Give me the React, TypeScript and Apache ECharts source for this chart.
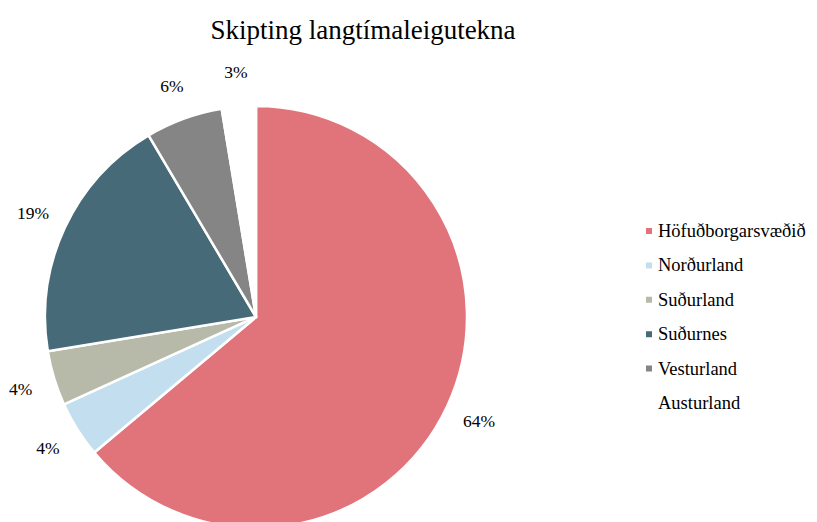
import React, { useEffect, useRef } from "react";
import * as echarts from "echarts";

const categories = ["Höfuðborgarsvæðið", "Norðurland", "Suðurland", "Suðurnes", "Vesturland", "Austurland"];
const values = [63.9, 4.3, 4.2, 19.1, 5.9, 2.6];
const colors = ["#E1737A", "#C3DEEE", "#B8BAA9", "#466A77", "#858585", "#FFFFFF"];
const title = "Skipting langtímaleigutekna";

export default function App() {
  const ref = useRef<HTMLDivElement>(null);
  useEffect(() => {
    document.body.style.margin = "0";
    const chart = echarts.init(ref.current!, undefined, { renderer: "svg" });
    const font = "Liberation Serif";
    chart.setOption({
      animation: false,
      backgroundColor: "#ffffff",
      title: {
        text: title,
        left: 358,
        top: 11,
        textAlign: "center",
        textStyle: { fontFamily: font, fontSize: 27, fontWeight: "normal", color: "#000" },
      },
      legend: {
        orient: "vertical",
        left: 639,
        top: 216,
        icon: "rect",
        itemWidth: 8,
        itemHeight: 8,
        itemGap: 14.4,
        textStyle: { fontFamily: font, fontSize: 18.5, color: "#000", lineHeight: 20 },
        data: categories.map((n, i) => ({ name: n, itemStyle: { color: colors[i] } })),
      },
      series: [
        {
          type: "pie",
          center: [256, 317],
          radius: 211,
          startAngle: 90,
          clockwise: true,
          data: categories.map((n, i) => ({ name: n, value: values[i], itemStyle: { color: colors[i] } })),
          itemStyle: { borderColor: "#fff", borderWidth: 2.5 },
          label: { show: false },
          labelLine: { show: false },
          emphasis: { disabled: true },
        },
        {
          type: "pie",
          center: [256, 317],
          radius: [233, 253],
          startAngle: 90,
          clockwise: true,
          silent: true,
          data: categories.map((n, i) => ({ name: n, value: values[i] })),
          itemStyle: { color: "rgba(0,0,0,0)", borderWidth: 0 },
          label: {
            show: true,
            position: "inside",
            fontFamily: font,
            fontSize: 17.5,
            color: "#000",
            formatter: (p: any) => Math.round(p.value) + "%",
          },
          labelLine: { show: false },
          emphasis: { disabled: true },
        },
      ],
    });
    return () => chart.dispose();
  }, []);
  return <div ref={ref} style={{ width: 817, height: 522 }} />;
}
